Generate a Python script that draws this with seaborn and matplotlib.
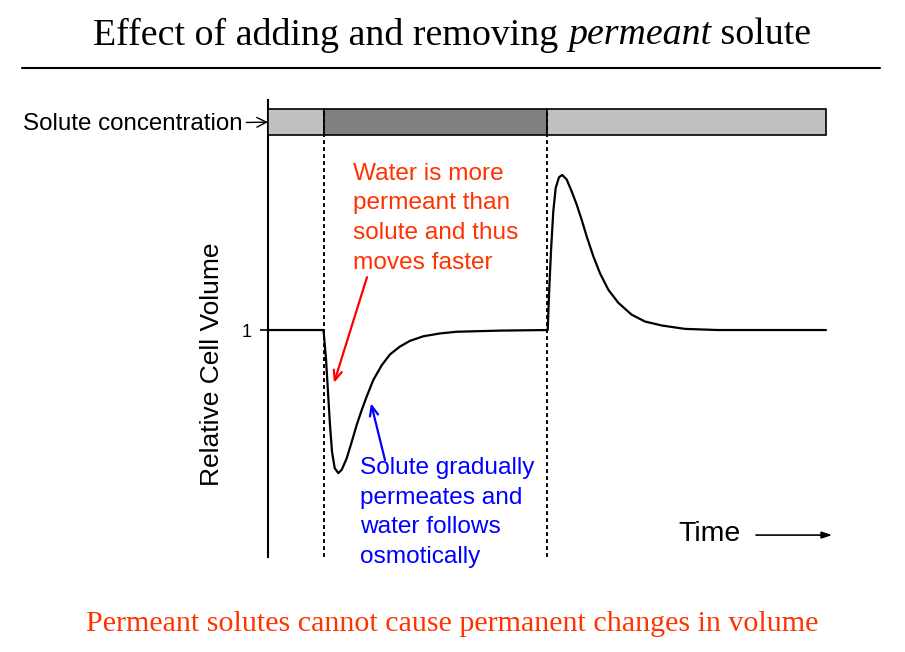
import numpy as np
import pandas as pd
import seaborn as sns
import matplotlib.pyplot as plt

# Relative cell volume over time
time = [0.0, 0.995, 1.039, 1.075, 1.111, 1.147, 1.195, 1.260, 1.321, 1.410,
        1.500, 1.590, 1.679, 1.769, 1.887, 2.038, 2.186, 2.366, 2.545, 2.783,
        3.082, 3.382, 4.158, 5.0,
        5.013, 5.036, 5.072, 5.113, 5.156, 5.215, 5.274, 5.353, 5.443, 5.532,
        5.622, 5.711, 5.830, 5.950, 6.099, 6.278, 6.518, 6.756, 7.056, 7.473,
        8.070, 10.0]
volume = [1.0, 1.0, 0.950, 0.891, 0.833, 0.786, 0.757, 0.748, 0.754, 0.774,
          0.803, 0.833, 0.859, 0.883, 0.912, 0.938, 0.957, 0.971, 0.981, 0.989,
          0.994, 0.997, 0.999, 1.0,
          1.0, 1.062, 1.139, 1.209, 1.250, 1.269, 1.273, 1.265, 1.244, 1.221,
          1.194, 1.165, 1.130, 1.100, 1.071, 1.048, 1.027, 1.015, 1.008, 1.002,
          1.0, 1.0]

# Solute concentration phases: normal, added, removed
phase_start = [0, 1, 5]
phase_end = [1, 5, 10]
phase_level = ['normal', 'high', 'normal']
change_times = [1, 5]

df = pd.DataFrame({'time': time, 'volume': volume})

sns.set_style('white')
plt.rcParams['font.family'] = ['Liberation Sans', 'DejaVu Sans']
plt.rcParams['text.color'] = 'black'
plt.rcParams['ytick.color'] = 'black'
plt.rcParams['axes.labelcolor'] = 'black'

fig = plt.figure(figsize=(9.05, 6.52), dpi=100)
ax = fig.add_axes([268 / 905, 95 / 652, 592 / 905, 457 / 652])

sns.lineplot(data=df, x='time', y='volume', ax=ax, color='black', lw=1.6, sort=False)

ax.set_xlim(0, 10.61)
ax.set_ylim(0.6004, 1.405)

# concentration bar
shade = {'normal': '#c0c0c0', 'high': '#808080'}
for s, e, lev in zip(phase_start, phase_end, phase_level):
    ax.barh(1.366, e - s, left=s, height=0.046, color=shade[lev],
            edgecolor='black', linewidth=1.2, zorder=3)

bar_top = (1.389 - 0.6004) / (1.405 - 0.6004)
for t in change_times:
    ax.axvline(t, ymin=0, ymax=bar_top, color='black', lw=1.4, ls=(0, (2, 1.6)), zorder=4)

# spines / ticks
for side in ['top', 'right', 'bottom']:
    ax.spines[side].set_visible(False)
ax.spines['left'].set_linewidth(1.5)
ax.spines['left'].set_color('black')
ax.set_xticks([])
ax.set_yticks([1])
ax.set_yticklabels(['1'], fontsize=13)
ax.tick_params(axis='y', direction='out', length=6, width=1.2, pad=6, left=True, colors='black')
ax.set_xlabel('')
ax.set_ylabel('')
ax.text(-0.0946, 0.422, 'Relative Cell Volume', transform=ax.transAxes, rotation=90,
        ha='center', va='center', fontsize=19)

ax.annotate('Solute concentration', xy=(0, 1.366), xytext=(-25, -2), textcoords='offset pixels',
            ha='right', va='center', fontsize=17.4, annotation_clip=False,
            arrowprops=dict(arrowstyle='->', lw=1, color='black', shrinkA=0, shrinkB=0))

red = '#ff3300'
blue = '#0000ff'
ax.text(1.523, 1.197, 'Water is more\npermeant than\nsolute and thus\nmoves faster',
        color=red, fontsize=17.6, ha='left', va='center', linespacing=1.45)
ax.annotate('', xy=(1.183, 0.907), xytext=(1.774, 1.093),
            arrowprops=dict(arrowstyle='->,head_length=0.7,head_width=0.3', lw=1.6, color='#ff0000',
                            shrinkA=0, shrinkB=0))

ax.text(1.649, 0.679, 'Solute gradually\npermeates and\nwater follows\nosmotically',
        color=blue, fontsize=17.6, ha='left', va='center', linespacing=1.45)
ax.annotate('', xy=(1.846, 0.871), xytext=(2.097, 0.771),
            arrowprops=dict(arrowstyle='->,head_length=0.7,head_width=0.3', lw=1.6, color=blue,
                            shrinkA=0, shrinkB=0))

ax.text(7.92, 0.641, 'Time', fontsize=20.5, ha='center', va='center')
ax.annotate('', xy=(10.11, 0.639), xytext=(8.746, 0.639), annotation_clip=False,
            arrowprops=dict(arrowstyle='-|>,head_length=0.6,head_width=0.2', lw=1.2, color='black',
                            shrinkA=0, shrinkB=0))

# title with italic word
serif = ['Liberation Serif', 'DejaVu Serif']
pieces = [('Effect of adding and removing ', 'normal'), ('permeant', 'italic'), (' solute', 'normal')]
renderer = fig.canvas.get_renderer()
texts = []
for s, style in pieces:
    texts.append(fig.text(0, 1 - 35 / 652, s, family=serif, style=style, fontsize=27.3, va='center'))
widths = [t.get_window_extent(renderer).width for t in texts]
x = 452 - sum(widths) / 2
for t, w in zip(texts, widths):
    t.set_x(x / 905)
    x += w

fig.add_artist(plt.Line2D([22 / 905, 880 / 905], [1 - 68 / 652] * 2, color='black', lw=1.5))

fig.text(452 / 905, 1 - 624 / 652, 'Permeant solutes cannot cause permanent changes in volume',
         family=serif, fontsize=21.6, color=red, ha='center', va='center')

fig.savefig('out.png', dpi=100)
